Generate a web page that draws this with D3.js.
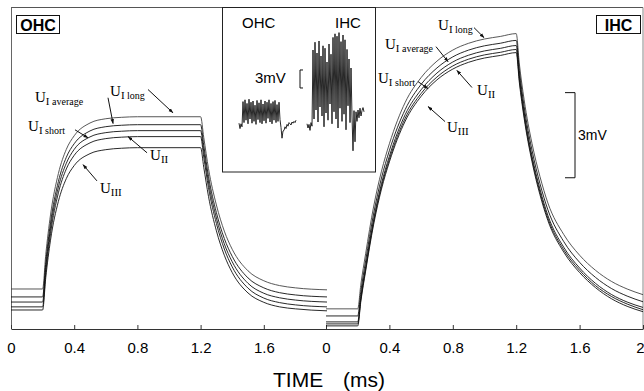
<!DOCTYPE html>
<html>
<head>
<meta charset="utf-8">
<script src="https://cdn.jsdelivr.net/npm/d3@7"></script>
<style>
body { margin: 0; background: #fff; }
svg { display: block; }
</style>
</head>
<body>
<svg id="chart"></svg>
<script>

// receptor potentials, mV
const ohcTime = [0, 0.2, 0.22, 0.25, 0.3, 0.35, 0.4, 0.5, 0.6, 0.7, 0.8, 1.0, 1.2, 1.22, 1.25, 1.3, 1.35, 1.4, 1.5, 1.6, 1.7, 1.8, 2.0];
const ohcULong    = [1.41,1.41,2.62,4.02,5.48,6.33,6.81,7.26,7.41,7.46,7.48,7.48,7.48,6.75,5.65,4.37,3.45,2.81,2.05,1.70,1.53,1.45,1.38];
const ohcUAverage = [1.13,1.13,2.34,3.74,5.20,6.05,6.53,6.98,7.13,7.18,7.20,7.20,7.20,6.47,5.38,4.10,3.19,2.56,1.80,1.45,1.28,1.20,1.13];
const ohcUShort   = [0.95,0.95,2.16,3.55,5.00,5.84,6.33,6.77,6.92,6.97,6.99,6.99,6.99,6.27,5.18,3.91,3.00,2.37,1.61,1.26,1.10,1.02,0.95];
const ohcUII      = [0.78,0.78,1.98,3.36,4.80,5.64,6.12,6.56,6.71,6.76,6.78,6.78,6.78,6.06,4.98,3.72,2.82,2.19,1.44,1.09,0.93,0.85,0.78];
const ohcUIII     = [0.67,0.67,1.81,3.13,4.50,5.30,5.76,6.18,6.32,6.37,6.39,6.39,6.39,5.70,4.67,3.46,2.60,1.99,1.27,0.94,0.78,0.71,0.64];

const ihcTime = [0, 0.2, 0.22, 0.25, 0.3, 0.35, 0.4, 0.5, 0.6, 0.7, 0.8, 0.9, 1.0, 1.1, 1.2, 1.22, 1.25, 1.3, 1.35, 1.4, 1.5, 1.6, 1.7, 1.8, 1.9, 2.0];
const ihcULong    = [0.71,0.71,1.58,2.65,4.30,5.56,6.53,7.99,8.86,9.44,9.83,10.07,10.22,10.31,10.41,9.34,8.08,6.53,5.37,4.44,3.33,2.60,2.07,1.68,1.41,1.21];
const ihcUAverage = [0.46,0.46,1.33,2.40,4.05,5.32,6.29,7.74,8.62,9.20,9.59,9.83,9.98,10.07,10.17,9.10,7.84,6.29,5.12,4.20,3.08,2.35,1.82,1.43,1.16,0.96];
const ihcUShort   = [0.25,0.25,1.13,2.20,3.85,5.12,6.09,7.56,8.43,9.02,9.41,9.65,9.80,9.89,9.99,8.92,7.65,6.09,4.93,4.00,2.88,2.15,1.61,1.22,0.95,0.76];
const ihcUII      = [0.18,0.18,1.05,2.11,3.76,5.02,5.98,7.43,8.30,8.88,9.27,9.51,9.66,9.75,9.85,8.79,7.53,5.98,4.82,3.90,2.79,2.07,1.53,1.15,0.88,0.68];
const ihcUIII     = [0.11,0.11,0.98,2.04,3.67,4.93,5.89,7.33,8.20,8.78,9.16,9.40,9.55,9.64,9.74,8.68,7.43,5.89,4.73,3.82,2.71,1.99,1.46,1.07,0.80,0.61];

// inset recordings (mV, one sample per step)
const insetOhcTrace = [0.3,-0.6,0.2,-0.3,3.9,0.4,4.2,0.8,3.6,0.2,4.3,1.0,3.8,0.3,4.0,0.6,3.3,0.1,4.1,0.9,3.7,0.4,4.2,0.2,3.5,0.7,4.0,0.3,3.8,1.1,4.2,0.5,3.6,0.2,3.9,0.8,4.1,0.4,3.4,0.6,3.8,0.9,-0.4,-2.2,-1.0,-0.9,-0.3,-0.6,0.1,-0.2,0.4,0.2,0.0,0.5,0.3,0.6,0.4,0.8];
const insetIhcTrace = [0.2,-0.5,0.1,-0.9,0.4,-0.2,12.5,1.0,13.8,2.5,12.0,0.5,14.0,3.0,11.5,1.5,13.2,-0.3,12.8,2.0,10.5,0.8,13.5,3.5,11.8,0.2,14.6,2.2,15.2,1.0,14.8,-0.5,15.4,2.8,13.9,0.6,15.0,1.8,14.2,-0.8,12.6,3.2,11.0,0.4,9.5,1.5,-4.3,2.4,-2.8,2.2,0.6,2.5,1.2,2.8,1.5,2.4,2.9,2.2];
const insetIhcStart = 68;

const leftTicks = [0, 0.4, 0.8, 1.2, 1.6];
const rightTicks = [0, 0.4, 0.8, 1.2, 1.6, 2];

const ohcSeries = [ohcULong, ohcUAverage, ohcUShort, ohcUII, ohcUIII];
const ihcSeries = [ihcULong, ihcUAverage, ihcUShort, ihcUII, ihcUIII];

// label anchors in (time, mV) of their own panel
const ohcLabels = [
  {sub: "I", q: "long", t: 0.627, v: 8.22, a: [0.867, 8.44, 1.025, 7.62]},
  {sub: "I", q: "average", t: 0.152, v: 8.01, a: [0.614, 8.15, 0.646, 7.24]},
  {sub: "I", q: "short", t: 0.108, v: 6.99, a: [0.405, 7.02, 0.487, 6.74]},
  {sub: "II", q: "", t: 0.88, v: 5.97, a: [0.861, 6.21, 0.741, 6.78]},
  {sub: "III", q: "", t: 0.563, v: 4.80, a: [0.544, 5.22, 0.456, 5.79]}
];
const ihcLabels = [
  {sub: "I", q: "long", t: 0.707, v: 10.55, a: [0.934, 10.62, 0.997, 10.27]},
  {sub: "I", q: "average", t: 0.372, v: 9.85, a: [0.694, 9.95, 0.770, 9.42]},
  {sub: "I", q: "short", t: 0.328, v: 8.68, a: [0.580, 8.72, 0.644, 8.47]},
  {sub: "II", q: "", t: 0.953, v: 8.26, a: [0.921, 8.51, 0.826, 9.11]},
  {sub: "III", q: "", t: 0.763, v: 6.95, a: [0.751, 7.31, 0.644, 7.84]}
];

const svgWidth = 644, svgHeight = 391;
const axisY = 329, topY = 7.5;

const svg = d3.select('#chart')
    .attr("width", svgWidth)
    .attr("height", svgHeight);

svg.append("defs").append("marker")
    .attr("id", "head")
    .attr("viewBox", "0 0 10 10")
    .attr("refX", 9).attr("refY", 5)
    .attr("markerWidth", 5).attr("markerHeight", 5)
    .attr("orient", "auto")
  .append("path")
    .attr("d", "M0,1.5L10,5L0,8.5Z")
    .attr("fill", "#111");

var xL = d3.scaleLinear().domain([0, 2]).range([11, 327]);
var xR = d3.scaleLinear().domain([0, 2]).range([326, 643]);
var y = d3.scaleLinear().domain([0, 11.33]).range([axisY, topY]);

// frame
svg.append("line").attr("x1", 11).attr("x2", 643).attr("y1", topY).attr("y2", topY)
  .attr("stroke", "#555").attr("stroke-width", 1);
svg.append("line").attr("x1", 11.5).attr("x2", 11.5).attr("y1", topY).attr("y2", axisY)
  .attr("stroke", "#666").attr("stroke-width", 1);
svg.append("line").attr("x1", 643).attr("x2", 643).attr("y1", topY).attr("y2", axisY)
  .attr("stroke", "#888").attr("stroke-width", 1);

// axes
function drawAxis(scale, ticks) {
  var g = svg.append("g")
    .attr("transform", "translate(0," + axisY + ")")
    .call(d3.axisBottom(scale).tickValues(ticks).tickSize(-4).tickSizeOuter(0).tickPadding(13).tickFormat(function(d){ return d; }));
  g.select(".domain").attr("stroke", "#333");
  g.selectAll(".tick line").attr("stroke", "#333");
  g.selectAll("text")
    .attr("fill", "#000")
    .style("font-family", "Liberation Sans, Arial, sans-serif")
    .style("font-size", "15px");
  return g;
}
drawAxis(xL, leftTicks);
var rightAxis = drawAxis(xR, rightTicks);
// keep the last label inside the window
rightAxis.selectAll("text").filter(function(d){ return d == 2; }).attr("x", -3);

svg.append("text")
  .attr("x", 273).attr("y", 387)
  .style("font-family", "Liberation Sans, Arial, sans-serif")
  .style("font-size", "21px")
  .text("TIME");
svg.append("text")
  .attr("x", 343).attr("y", 387)
  .style("font-family", "Liberation Sans, Arial, sans-serif")
  .style("font-size", "21px")
  .text("(ms)");

// curves
function drawPanel(xs, time, series, labels) {
  var line = d3.line()
    .x(function(d, i){ return xs(time[i]); })
    .y(function(d){ return y(d); })
    .curve(d3.curveMonotoneX);

  svg.append("g").selectAll("path")
    .data(series)
    .enter()
    .append("path")
      .attr("d", line)
      .attr("fill", "none")
      .attr("stroke", function(d, i){ return i == 0 ? "#444" : "#111"; })
      .attr("stroke-width", 0.9);

  var lab = svg.append("g").selectAll("g")
    .data(labels)
    .enter()
    .append("g");

  lab.append("line")
    .attr("x1", function(d){ return xs(d.a[0]); })
    .attr("y1", function(d){ return y(d.a[1]); })
    .attr("x2", function(d){ return xs(d.a[2]); })
    .attr("y2", function(d){ return y(d.a[3]); })
    .attr("stroke", "#111")
    .attr("stroke-width", 1)
    .attr("marker-end", "url(#head)");

  var txt = lab.append("text")
    .attr("x", function(d){ return xs(d.t); })
    .attr("y", function(d){ return y(d.v); })
    .style("font-family", "Liberation Serif, Times New Roman, serif")
    .attr("fill", "#000");
  txt.append("tspan").style("font-size", "15px").text("U");
  txt.append("tspan").style("font-size", "11px").attr("dy", 3).text(function(d){ return d.sub; });
  txt.append("tspan").style("font-size", "10px").text(function(d){ return d.q ? " " + d.q : ""; });
}
drawPanel(xL, ohcTime, ohcSeries, ohcLabels);
drawPanel(xR, ihcTime, ihcSeries, ihcLabels);

// boxed panel names
function boxLabel(x0, w, name) {
  svg.append("rect")
    .attr("x", x0 + 0.5).attr("y", 15.5).attr("width", w).attr("height", 18)
    .attr("fill", "#fff").attr("stroke", "#111").attr("stroke-width", 1);
  svg.append("text")
    .attr("x", x0 + w / 2 + 0.5).attr("y", 30.5)
    .attr("text-anchor", "middle")
    .style("font-family", "Liberation Sans, Arial, sans-serif")
    .style("font-weight", "bold")
    .style("font-size", "16px")
    .text(name);
}
boxLabel(16, 43, "OHC");
boxLabel(596, 44, "IHC");

// 3mV scale bar
var barX = 575;
svg.append("path")
  .attr("d", "M" + (barX - 10) + "," + y(8.33) + "H" + barX + "V" + y(5.33) + "H" + (barX - 10))
  .attr("fill", "none").attr("stroke", "#111").attr("stroke-width", 1);
svg.append("text")
  .attr("x", 578).attr("y", 140)
  .style("font-family", "Liberation Sans, Arial, sans-serif")
  .style("font-size", "14px")
  .text("3mV");

// inset
var inset = svg.append("g");
inset.append("rect")
  .attr("x", 222.5).attr("y", topY).attr("width", 153).attr("height", 172 - topY)
  .attr("fill", "#fff").attr("stroke", "#222").attr("stroke-width", 1);

var ix = d3.scaleLinear().domain([0, 125]).range([239, 364]);
var iy = d3.scaleLinear().domain([-5, 16]).range([155, 29]);

var traceLine = d3.line()
  .x(function(d){ return ix(d[0]); })
  .y(function(d){ return iy(d[1]); });

inset.append("path")
  .attr("d", traceLine(insetOhcTrace.map(function(v, i){ return [i, v]; })))
  .attr("fill", "none").attr("stroke", "#111").attr("stroke-width", 0.9);
inset.append("path")
  .attr("d", traceLine(insetIhcTrace.map(function(v, i){ return [i + insetIhcStart, v]; })))
  .attr("fill", "none").attr("stroke", "#111").attr("stroke-width", 0.9);

inset.append("path")
  .attr("d", "M" + (ix(61) + 3) + "," + iy(9.17) + "H" + ix(61) + "V" + iy(6.17) + "H" + (ix(61) + 3))
  .attr("fill", "none").attr("stroke", "#111").attr("stroke-width", 1);

inset.selectAll("text.lab")
  .data([["OHC", 242, 28], ["IHC", 335, 28], ["3mV", 255, 83]])
  .enter()
  .append("text")
    .attr("x", function(d){ return d[1]; })
    .attr("y", function(d){ return d[2]; })
    .style("font-family", "Liberation Sans, Arial, sans-serif")
    .style("font-size", "15px")
    .text(function(d){ return d[0]; });

</script>
</body>
</html>
